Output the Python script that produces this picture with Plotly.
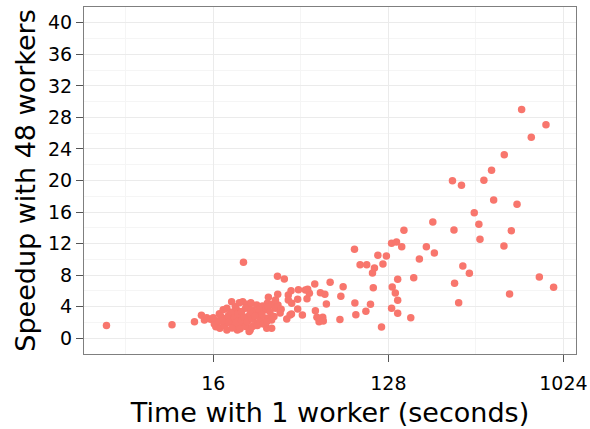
import plotly.graph_objects as go

# Time with 1 worker (seconds)
time_1 = [
    4.5, 9.8, 12.8, 13.9, 14.4, 14.8, 15.5,
    16.5, 17.3, 17.2, 17.0, 18.0, 18.0, 18.8, 18.8, 19.5, 19.9, 20.3, 20.3, 21.1,
    21.3, 21.8, 22.0, 22.7, 22.9, 22.9, 23.8, 24.3, 24.3, 24.5, 24.8, 25.3, 26.8,
    26.8, 27.3, 28.4, 28.7, 29.6, 30.2, 30.2, 30.4, 30.8, 31.4, 32.0, 26.0, 27.5,
    16.2, 16.8, 17.5, 18.3, 19.0, 19.2, 19.8, 20.0, 20.6, 21.0, 21.5, 22.0, 22.4,
    22.4, 23.0, 23.5, 23.5, 24.0, 24.8, 25.5, 25.5, 26.3, 27.0, 28.0, 28.5, 29.0,
    16.0, 17.8, 20.8, 21.8, 25.0,
    32.0, 30.8, 33.5, 31.4, 32.9, 32.0, 30.2, 34.5, 33.5,
    34.3, 37.2, 34.4, 35.8, 35.4, 38.3, 39.0, 39.0, 39.8, 40.3, 40.6, 44.0, 43.6,
    43.6, 46.1, 48.7, 49.1, 50.1, 53.4, 53.8, 54.8, 56.2, 58.7, 59.1, 57.1, 60.2,
    61.3, 64.1, 72.0, 72.8, 74.8, 40.5, 47.8,
    85.6, 86.0, 87.0, 91.5, 98.0, 99.0, 103.5, 106.0, 107.0, 108.5, 113.0, 118.0,
    120.0, 125.0, 133.0, 133.0, 134.0, 139.0, 141.0, 143.0, 143.0, 143.0, 150.0,
    154.0, 167.0, 173.0, 185.0, 201.0, 217.0, 221.0, 274.0, 279.0, 281.0, 295.0,
    305.0, 310.0, 335.0, 355.0, 375.0, 380.0, 398.0, 436.0, 447.0, 505.0, 507.0,
    540.0, 551.0, 590.0, 623.0, 699.0, 769.0, 832.0, 911.0,
]

# Speedup with 48 workers
speedup_48 = [
    1.6, 1.7, 2.1, 2.9, 2.3, 2.6, 2.4,
    1.45, 1.27, 3.1, 2.1, 2.5, 3.6, 3.8, 1.05, 2.3, 4.64, 1.7, 2.95, 3.6,
    1.05, 1.5, 2.55, 4.64, 1.9, 9.63, 4.3, 2.75, 4.22, 0.84, 1.05, 3.6, 4.22,
    1.9, 2.95, 4.0, 4.09, 3.6, 2.53, 1.27, 4.43, 5.2, 2.53, 1.27, 3.37, 3.59,
    1.8, 2.2, 2.8, 1.6, 2.0, 2.9, 3.3, 1.3, 2.6, 2.0, 3.1, 1.2, 2.2,
    3.4, 2.7, 1.5, 3.8, 2.1, 3.1, 1.5, 2.4, 2.8, 1.6, 2.2, 3.0, 1.8,
    2.6, 2.2, 4.0, 4.5, 4.5,
    4.31, 4.0, 3.8, 3.37, 2.74, 2.32, 2.1, 4.2, 4.85,
    7.86, 7.52, 5.58, 3.67, 3.2, 2.45, 5.49, 4.85, 2.95, 6.03, 4.43, 6.16, 4.94,
    3.71, 2.95, 5.02, 6.21, 5.7, 6.88, 3.5, 2.66, 2.1, 2.66, 2.19, 5.78, 5.58,
    4.35, 7.1, 2.36, 5.32, 6.54, 3.08, 6.1,
    11.28, 4.47, 2.99, 9.33, 3.42, 9.33, 4.31, 8.28, 6.41, 8.91, 10.52, 1.43,
    9.42, 10.43, 12.04, 3.8, 6.5, 5.74, 12.2, 4.82, 3.17, 7.48, 11.61,
    13.69, 2.61, 7.68, 10.05, 11.61, 14.74, 10.81, 19.97, 13.73, 6.97, 4.51,
    19.39, 9.16, 8.24, 15.92, 14.45, 12.55, 20.03, 21.29, 17.53, 11.7, 23.27,
    5.61, 13.64, 16.98, 29.0, 25.47, 7.77, 27.07, 6.46,
]

x_ticks = [16, 128, 1024]
x_tick_text = ["16", "128", "1024"]
x_minor = [2 ** 2.5, 2 ** 5.5, 2 ** 8.5]
y_ticks = list(range(0, 41, 4))
y_minor = list(range(2, 40, 4))

FONT = "DejaVu Sans"

fig = go.Figure(
    go.Scatter(
        x=time_1,
        y=speedup_48,
        mode="markers",
        marker=dict(color="#F8766D", size=7.5, line=dict(width=0)),
        hoverinfo="x+y",
    )
)

fig.update_layout(
    width=590,
    height=429,
    margin=dict(l=84, r=14, t=7, b=75, autoexpand=False),
    paper_bgcolor="white",
    plot_bgcolor="white",
    showlegend=False,
    font=dict(family=FONT, color="black"),
)

fig.update_xaxes(
    type="log",
    automargin=False,
    range=[1.785 * 0.30103, 10.215 * 0.30103],
    tickmode="array",
    tickvals=x_ticks,
    ticktext=x_tick_text,
    tickfont=dict(size=19, family=FONT, color="black"),
    ticks="outside",
    ticklen=7,
    tickwidth=1,
    tickcolor="#555555",
    ticklabelstandoff=5,
    showgrid=True,
    gridcolor="#EBEBEB",
    gridwidth=1.2,
    minor=dict(tickvals=x_minor, showgrid=True, gridcolor="#F5F5F5", gridwidth=0.8, ticklen=0),
    showline=True,
    linecolor="#7F7F7F",
    linewidth=1,
    mirror=True,
    zeroline=False,
    title=dict(text="Time with 1 worker (seconds)", font=dict(size=27, family=FONT, color="black"), standoff=10),
)

fig.update_yaxes(
    automargin=False,
    range=[-2, 42],
    tickmode="array",
    tickvals=y_ticks,
    tickfont=dict(size=19, family=FONT, color="black"),
    ticks="outside",
    ticklen=7,
    tickwidth=1,
    tickcolor="#555555",
    showgrid=True,
    gridcolor="#EBEBEB",
    gridwidth=1.2,
    minor=dict(tickvals=y_minor, showgrid=True, gridcolor="#F5F5F5", gridwidth=0.8, ticklen=0),
    showline=True,
    linecolor="#7F7F7F",
    linewidth=1,
    mirror=True,
    zeroline=False,
    title=dict(text="Speedup with 48 workers", font=dict(size=27, family=FONT, color="black"), standoff=4),
)

fig.write_html(
    "out.html",
    config={"displayModeBar": False},
    post_script="document.body.style.margin='0';document.body.style.padding='0';",
)
